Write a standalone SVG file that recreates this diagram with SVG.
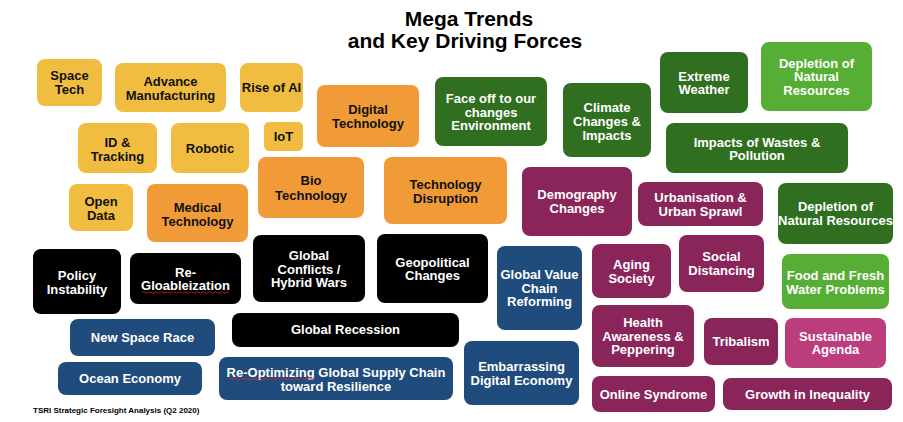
<svg xmlns="http://www.w3.org/2000/svg" width="903" height="422" viewBox="0 0 903 422">
<style>
rect{rx:8px;ry:8px;}
.y{fill:#F1BD41}.o{fill:#F09B37}.g{fill:#2F6F1F}.lg{fill:#56AE35}.p{fill:#8A255A}.pk{fill:#BB3D7B}.b{fill:#1F4C7C}.k{fill:#000}
text{font-family:"Liberation Sans",Arial,Helvetica,sans-serif;font-weight:bold;font-size:13px;text-anchor:middle}
.d{fill:#111}.w{fill:#fff}
.title{font-size:21px;fill:#000}
.foot{font-size:8px;fill:#000;text-anchor:start}
.sq{fill:none;stroke:#d22;stroke-width:0.8}
</style>
<rect width="903" height="422" fill="#fff" rx="0" ry="0" style="rx:0;ry:0"/>
<g id="title">
<text class="title" x="469" y="26">Mega Trends</text>
<text class="title" x="465" y="48">and Key Driving Forces</text>
</g>
<g id="n-space-tech"><rect class="y" x="37" y="59" width="65" height="47"/><text class="d" x="69.5" y="80">Space</text><text class="d" x="69.5" y="94">Tech</text></g>
<g id="n-advance-manufacturing"><rect class="y" x="115" y="63" width="111" height="49"/><text class="d" x="170.5" y="86">Advance</text><text class="d" x="170.5" y="99.5">Manufacturing</text></g>
<g id="n-rise-of-ai"><rect class="y" x="240" y="63" width="63" height="49"/><text class="d" x="271.5" y="92">Rise of AI</text></g>
<g id="n-id-tracking"><rect class="y" x="78" y="123" width="79" height="50"/><text class="d" x="117.5" y="146.5">ID &amp;</text><text class="d" x="117.5" y="160.5">Tracking</text></g>
<g id="n-robotic"><rect class="y" x="171" y="123" width="78" height="50"/><text class="d" x="210" y="153">Robotic</text></g>
<g id="n-iot"><rect class="y" x="264" y="122" width="39" height="29" style="rx:5px;ry:5px"/><text class="d" x="283.5" y="141">IoT</text></g>
<g id="n-open-data"><rect class="y" x="69" y="184" width="64" height="47"/><text class="d" x="101" y="206">Open</text><text class="d" x="101" y="219.5">Data</text></g>
<g id="n-medical-technology"><rect class="o" x="147" y="184" width="101" height="58"/><text class="d" x="197.5" y="212">Medical</text><text class="d" x="197.5" y="226">Technology</text></g>
<g id="n-bio-technology"><rect class="o" x="258" y="157" width="106" height="61"/><text class="d" x="311" y="185">Bio</text><text class="d" x="311" y="199.5">Technology</text></g>
<g id="n-digital-technology"><rect class="o" x="317" y="85" width="102" height="62"/><text class="d" x="368" y="114">Digital</text><text class="d" x="368" y="128">Technology</text></g>
<g id="n-face-off"><rect class="g" x="435" y="77" width="112" height="69"/><text class="w" x="491" y="102.5">Face off to our</text><text class="w" x="491" y="116.5">changes</text><text class="w" x="491" y="130">Environment</text></g>
<g id="n-technology-disruption"><rect class="o" x="384" y="157" width="123" height="67"/><text class="d" x="445.5" y="189">Technology</text><text class="d" x="445.5" y="203">Disruption</text></g>
<g id="n-climate"><rect class="g" x="563" y="83" width="88" height="74"/><text class="w" x="607" y="111.5">Climate</text><text class="w" x="607" y="125.5">Changes &amp;</text><text class="w" x="607" y="139.5">Impacts</text></g>
<g id="n-extreme-weather"><rect class="g" x="660" y="52" width="88" height="61"/><text class="w" x="704" y="80.5">Extreme</text><text class="w" x="704" y="94">Weather</text></g>
<g id="n-depletion-light"><rect class="lg" x="761" y="42" width="111" height="69"/><text class="w" x="816.5" y="67.5">Depletion of</text><text class="w" x="816.5" y="81">Natural</text><text class="w" x="816.5" y="94.5">Resources</text></g>
<g id="n-impacts-wastes"><rect class="g" x="666" y="123" width="182" height="50"/><text class="w" x="757" y="146.5">Impacts of Wastes &amp;</text><text class="w" x="757" y="160">Pollution</text></g>
<g id="n-demography"><rect class="p" x="522" y="167" width="110" height="69"/><text class="w" x="577" y="198.5">Demography</text><text class="w" x="577" y="212.5">Changes</text></g>
<g id="n-urbanisation"><rect class="p" x="638" y="182" width="125" height="44"/><text class="w" x="700.5" y="201.5">Urbanisation &amp;</text><text class="w" x="700.5" y="215.5">Urban Sprawl</text></g>
<g id="n-depletion-dark"><rect class="g" x="778" y="183" width="115" height="61"/><text class="w" x="835.5" y="210.5">Depletion of</text><text class="w" x="835.5" y="224.5">Natural Resources</text></g>
<g id="n-policy-instability"><rect class="k" x="33" y="249" width="88" height="65"/><text class="w" x="77" y="279.5">Policy</text><text class="w" x="77" y="293.5">Instability</text></g>
<g id="n-re-gloableization"><rect class="k" x="130" y="253" width="111" height="51"/><text class="w" x="185.5" y="276.5">Re-</text><text class="w" x="185.5" y="290">Gloableization</text><path class="sq" d="M142 292.5 q1.5 -1.5 3 0 t3 0 t3 0 t3 0 t3 0 t3 0 t3 0 t3 0 t3 0 t3 0 t3 0 t3 0 t3 0 t3 0 t3 0 t3 0 t3 0 t3 0 t3 0 t3 0 t3 0 t3 0 t3 0 t3 0 t3 0 t3 0 t3 0 t3 0 t3 0"/></g>
<g id="n-global-conflicts"><rect class="k" x="253" y="235" width="112" height="67"/><text class="w" x="309" y="259.5">Global</text><text class="w" x="309" y="273.5">Conflicts /</text><text class="w" x="309" y="287">Hybrid Wars</text></g>
<g id="n-geopolitical"><rect class="k" x="377" y="234" width="111" height="69"/><text class="w" x="432.5" y="266.5">Geopolitical</text><text class="w" x="432.5" y="280">Changes</text></g>
<g id="n-global-recession"><rect class="k" x="232" y="313" width="227" height="34"/><text class="w" x="345.5" y="334">Global Recession</text></g>
<g id="n-new-space-race"><rect class="b" x="70" y="319" width="145" height="37"/><text class="w" x="142.5" y="342">New Space Race</text></g>
<g id="n-ocean-economy"><rect class="b" x="58" y="362" width="144" height="33"/><text class="w" x="130" y="383">Ocean Economy</text></g>
<g id="n-re-optimizing"><rect class="b" x="219" y="357" width="234" height="43"/><text class="w" x="336" y="376.5">Re-Optimizing Global Supply Chain</text><text class="w" x="336" y="390.5">toward Resilience</text><path class="sq" d="M228 379 q1.5 -1.5 3 0 t3 0 t3 0 t3 0 t3 0 t3 0 t3 0 t3 0 t3 0 t3 0 t3 0 t3 0 t3 0 t3 0 t3 0 t3 0 t3 0 t3 0 t3 0 t3 0 t3 0 t3 0 t3 0 t3 0 t3 0 t3 0 t3 0 t3 0 t3 0"/></g>
<g id="n-global-value-chain"><rect class="b" x="497" y="246" width="85" height="84"/><text class="w" x="539.5" y="278.5">Global Value</text><text class="w" x="539.5" y="292.5">Chain</text><text class="w" x="539.5" y="306">Reforming</text></g>
<g id="n-embarrassing"><rect class="b" x="464" y="341" width="115" height="64"/><text class="w" x="521.5" y="370.5">Embarrassing</text><text class="w" x="521.5" y="384.5">Digital Economy</text></g>
<g id="n-aging-society"><rect class="p" x="592" y="244" width="79" height="54"/><text class="w" x="631.5" y="268.5">Aging</text><text class="w" x="631.5" y="282.5">Society</text></g>
<g id="n-social-distancing"><rect class="p" x="679" y="235" width="85" height="57"/><text class="w" x="721.5" y="260.5">Social</text><text class="w" x="721.5" y="274.5">Distancing</text></g>
<g id="n-food-water"><rect class="lg" x="782" y="254" width="107" height="55"/><text class="w" x="835.5" y="279.5">Food and Fresh</text><text class="w" x="835.5" y="293.5">Water Problems</text></g>
<g id="n-health-awareness"><rect class="p" x="592" y="305" width="102" height="62"/><text class="w" x="643" y="326.5">Health</text><text class="w" x="643" y="340.5">Awareness &amp;</text><text class="w" x="643" y="354">Peppering</text></g>
<g id="n-tribalism"><rect class="p" x="704" y="318" width="74" height="47"/><text class="w" x="741" y="345.5">Tribalism</text></g>
<g id="n-sustainable-agenda"><rect class="pk" x="785" y="318" width="101" height="50"/><text class="w" x="835.5" y="340.5">Sustainable</text><text class="w" x="835.5" y="354">Agenda</text></g>
<g id="n-online-syndrome"><rect class="p" x="592" y="376" width="123" height="36"/><text class="w" x="653.5" y="398.5">Online Syndrome</text></g>
<g id="n-growth-inequality"><rect class="p" x="723" y="378" width="169" height="32"/><text class="w" x="807.5" y="398.5">Growth in Inequality</text></g>
<g id="connectors"></g>
<text class="foot" x="33" y="413">TSRI Strategic Foresight Analysis (Q2 2020)</text>
</svg>
